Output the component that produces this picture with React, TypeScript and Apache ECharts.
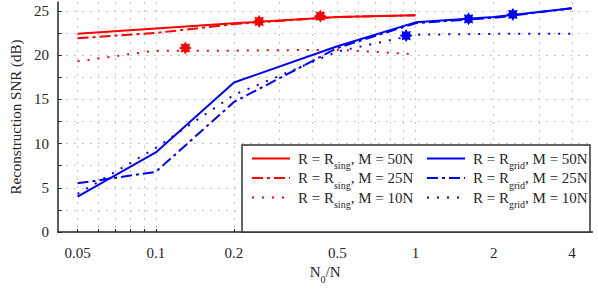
import React, { useEffect, useRef } from 'react';
import * as echarts from 'echarts';

// ---- data ----
const xSing = [0.05, 0.1, 0.2, 0.5, 1];
const xGrid = [0.05, 0.1, 0.2, 0.5, 1, 2, 4];

const sing50 = [22.4, 23.0, 23.6, 24.3, 24.5];
const sing25 = [21.9, 22.5, 23.5, 24.3, 24.5];
const sing10 = [19.3, 20.5, 20.5, 20.6, 20.1];

const grid50 = [4.0, 9.0, 16.9, 21.0, 23.7, 24.3, 25.3];
const grid25 = [5.5, 6.8, 14.7, 20.8, 23.6, 24.2, 25.3];
const grid10 = [4.3, 9.5, 15.5, 20.4, 22.3, 22.4, 22.4];

// highlighted points [x, y]
const markSing50 = [0.43, 24.4];
const markSing25 = [0.25, 23.8];
const markSing10 = [0.13, 20.8];
const markGrid50 = [2.37, 24.6];
const markGrid25 = [1.6, 24.1];
const markGrid10 = [0.92, 22.2];

const xTickLabels = [0.05, 0.1, 0.2, 0.5, 1, 2, 4];
const xTickValues = [0.05, 0.06, 0.07, 0.08, 0.09, 0.1, 0.2, 0.3, 0.4, 0.5, 0.6, 0.7, 0.8, 0.9, 1, 2, 3, 4];
const yTickLabels = [0, 5, 10, 15, 20, 25];
const yGridValues = [0, 2.5, 5, 7.5, 10, 12.5, 15, 17.5, 20, 22.5, 25];

const seriesNames = [
  'R = R_sing, M = 50N',
  'R = R_sing, M = 25N',
  'R = R_sing, M = 10N',
  'R = R_grid, M = 50N',
  'R = R_grid, M = 25N',
  'R = R_grid, M = 10N',
];

const RED = '#ff0000';
const BLUE = '#0000ff';
const FONT = 'Liberation Serif';
const TXT = '#262626';

function starPath(): string {
  const pts: string[] = [];
  for (let i = 0; i < 16; i++) {
    const a = (i * Math.PI) / 8 - Math.PI / 2;
    const r = i % 2 === 0 ? 50 : 32;
    pts.push(`${(50 + r * Math.cos(a)).toFixed(2)} ${(50 + r * Math.sin(a)).toFixed(2)}`);
  }
  return 'path://M' + pts.join(' L') + ' Z';
}

const DASHDOT = [11, 4, 3, 4];
const DOTTED = [2, 8];

function fmtNum(v: number) {
  return String(+Number(v).toPrecision(6));
}

export default function App() {
  const ref = useRef<HTMLDivElement>(null);
  useEffect(() => {
    const chart = echarts.init(ref.current!, null, { renderer: 'svg' });
    const star = starPath();
    const mk = (name: string, xs: number[], ys: number[], color: string, type: any, m: number[]) => ({
      name,
      type: 'line',
      data: xs.map((x, i) => [x, ys[i]]),
      symbol: 'none',
      lineStyle: { color, width: 2, type, cap: 'butt' },
      itemStyle: { color },
      markPoint: {
        symbol: star,
        symbolSize: 13,
        itemStyle: { color },
        label: { show: false },
        data: [{ coord: m }],
      },
    });
    const rich = {
      t: { fontFamily: FONT, fontSize: 15, lineHeight: 24, color: TXT },
      s: { fontFamily: FONT, fontSize: 10, lineHeight: 1, verticalAlign: 'bottom', color: TXT },
    };
    const legendFmt = (name: string) => {
      const m = name.match(/^(.*R)_(\w+)(,.*)$/);
      if (!m) return name;
      return `{t|${m[1]}}{s|${m[2]}}{t|${m[3]}}`;
    };
    const legendBase = {
      orient: 'vertical',
      itemWidth: 38,
      itemHeight: 14,
      itemGap: 0,
      padding: 0,
      selectedMode: false,
      formatter: legendFmt,
      itemStyle: { opacity: 0, borderWidth: 0 },
      textStyle: { fontFamily: FONT, fontSize: 15, color: TXT, rich, padding: [0, 0, 0, 3] },
    };
    chart.setOption({
      animation: false,
      backgroundColor: '#ffffff',
      grid: { left: 49, right: 5.5, top: 2, bottom: 60, containLabel: false },
      legend: [
        { ...legendBase, data: seriesNames.slice(0, 3), left: 251, top: 151 },
        { ...legendBase, data: seriesNames.slice(3), left: 426, top: 151 },
      ],
      graphic: [
        {
          type: 'rect',
          z: 3,
          shape: { x: 242, y: 145, width: 348, height: 87 },
          style: { fill: '#ffffff', stroke: '#333333', lineWidth: 1.5 },
        },
      ],
      xAxis: {
        type: 'log',
        logBase: 10,
        min: 0.042,
        max: 4.8,
        axisLine: { show: true, onZero: false, lineStyle: { color: TXT, width: 1.5 } },
        axisTick: { show: true, inside: true, length: 3, customValues: xTickValues, lineStyle: { color: TXT } },
        axisLabel: { customValues: xTickLabels, formatter: fmtNum, fontFamily: FONT, fontSize: 15, color: TXT, margin: 13 },
        splitLine: { show: true, lineStyle: { color: '#c4c4c4', type: [2, 6], width: 1 } },
        minorTick: { show: false },
        name: '{t|N}{s|0}{t|/N}',
        nameLocation: 'middle',
        nameGap: 20,
        nameTextStyle: { fontFamily: FONT, fontSize: 15, color: TXT, rich },
      },
      yAxis: {
        type: 'value',
        min: 0,
        max: 26,
        axisLine: { show: true, onZero: false, lineStyle: { color: TXT, width: 1.5 } },
        axisTick: { show: true, inside: true, length: 4, customValues: yGridValues, lineStyle: { color: TXT } },
        axisLabel: { customValues: yTickLabels, fontFamily: FONT, fontSize: 15, color: TXT, margin: 9 },
        splitLine: { show: true, lineStyle: { color: '#c4c4c4', type: [2, 6], width: 1 } },
        name: 'Reconstruction SNR (dB)',
        nameLocation: 'middle',
        nameGap: 29,
        nameTextStyle: { fontFamily: FONT, fontSize: 15, color: TXT },
      },
      series: [
        mk(seriesNames[0], xSing, sing50, RED, 'solid', markSing50),
        mk(seriesNames[1], xSing, sing25, RED, DASHDOT, markSing25),
        mk(seriesNames[2], xSing, sing10, RED, DOTTED, markSing10),
        mk(seriesNames[3], xGrid, grid50, BLUE, 'solid', markGrid50),
        mk(seriesNames[4], xGrid, grid25, BLUE, DASHDOT, markGrid25),
        mk(seriesNames[5], xGrid, grid10, BLUE, DOTTED, markGrid10),
      ],
    });
    return () => chart.dispose();
  }, []);
  return <div ref={ref} style={{ width: 598, height: 292, position: 'absolute', left: 0, top: 0 }} />;
}
